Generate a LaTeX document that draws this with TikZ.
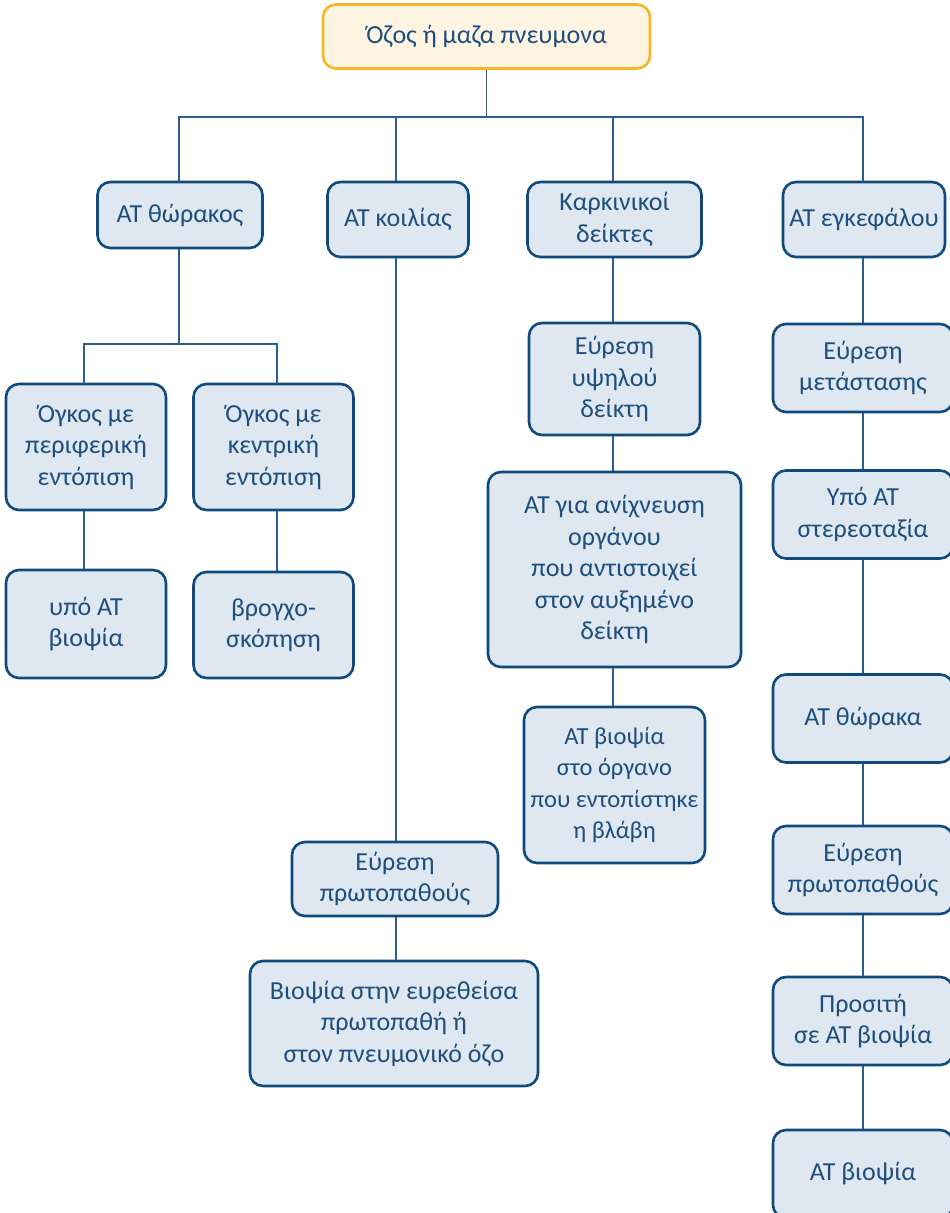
\documentclass[tikz,border=0pt]{standalone}
\usepackage{fontspec}
\setmainfont{Carlito}
\definecolor{boxline}{HTML}{0E4A7E}
\definecolor{boxfill}{HTML}{DFE8F0}
\definecolor{textblue}{HTML}{1C4F80}
\definecolor{linkblue}{HTML}{2B5E90}
\definecolor{rootline}{HTML}{F8B624}
\definecolor{rootfill}{HTML}{FEF4E1}
\begin{document}
\begin{tikzpicture}[x=1pt,y=-1pt,
  box/.style={draw=boxline, fill=boxfill, line width=2.6pt, rounded corners=13pt,
    text=textblue, align=center, inner sep=0pt,
    font=\fontsize{26}{31.5}\selectfont},
  root/.style={box, draw=rootline, fill=rootfill},
  link/.style={draw=linkblue, line width=1.5pt}]
\useasboundingbox (0,0) rectangle (950,1213);
\fill[white] (0,0) rectangle (950,1213);

% top of the tree
\node[root, minimum width=327, minimum height=64] (root) at (486.5,36.5) {Όζος ή μαζα πνευμονα};

% second row
\node[box, minimum width=165, minimum height=66] (thor) at (180,215) {ΑΤ θώρακος};
\node[box, minimum width=141, minimum height=75] (koil) at (398,219.5) {ΑΤ κοιλίας};
\node[box, minimum width=174, minimum height=75] (kark) at (614.5,219.5) {Καρκινικοί\\δείκτες};
\node[box, minimum width=162, minimum height=75] (enk) at (864,219.5) {ΑΤ εγκεφάλου};

% chest branch
\node[box, minimum width=160, minimum height=126] (per) at (86,447) {Όγκος με\\περιφερική\\εντόπιση};
\node[box, minimum width=160, minimum height=126] (kent) at (273.5,447) {Όγκος με\\κεντρική\\εντόπιση};
\node[box, minimum width=160, minimum height=108] (ypo) at (86,624) {υπό ΑΤ\\βιοψία};
\node[box, minimum width=160, minimum height=106] (vrog) at (273.5,625) {βρογχο-\\σκόπηση};

% abdomen branch
\node[box, minimum width=206, minimum height=74] (epr1) at (395,879) {Εύρεση\\πρωτοπαθούς};
\node[box, minimum width=288, minimum height=125] (vio) at (394,1023.5) {Βιοψία στην ευρεθείσα\\πρωτοπαθή ή\\στον πνευμονικό όζο};

% tumour marker branch
\node[box, minimum width=171, minimum height=112] (ypsi) at (614.5,379) {Εύρεση\\υψηλού\\δείκτη};
\node[box, minimum width=253, minimum height=195] (anix) at (614.5,569.5) {ΑΤ για ανίχνευση\\οργάνου\\που αντιστοιχεί\\στον αυξημένο\\δείκτη};
\node[box, minimum width=181, minimum height=156, font=\fontsize{24.5}{31.5}\selectfont] (biop) at (614.5,785) {ΑΤ βιοψία\\στο όργανο\\που εντοπίστηκε\\η βλάβη};

% brain branch
\node[box, minimum width=180, minimum height=88] (meta) at (863,368) {Εύρεση\\μετάστασης};
\node[box, minimum width=180, minimum height=88] (ster) at (863,514.5) {Υπό ΑΤ\\στερεοταξία};
\node[box, minimum width=180, minimum height=88] (thka) at (863,718.5) {ΑΤ θώρακα};
\node[box, minimum width=180, minimum height=88] (epr2) at (863,870) {Εύρεση\\πρωτοπαθούς};
\node[box, minimum width=180, minimum height=88] (pros) at (863,1021) {Προσιτή\\σε ΑΤ βιοψία};
\node[box, minimum width=180, minimum height=88] (atb) at (863,1174) {ΑΤ βιοψία};

% connectors
\coordinate (hub) at (root.south |- 0,117);
\coordinate (tj) at (179,344);
\draw[link] (root.south) -- (hub);
\draw[link] (179,182) coordinate (thtop) |- (hub) -| (863,182) coordinate (entop);
\draw[link] (396,117) coordinate (kotop) -- (koil.north -| kotop);
\draw[link] (613,117) coordinate (katop) -- (kark.north -| katop);
\draw[link] (thor.south -| tj) -- (tj);
\draw[link] (84,384) coordinate (pertop) |- (tj) -| (277,384) coordinate (kenttop);
\draw[link] (per.south -| pertop) -- (ypo.north -| pertop);
\draw[link] (kent.south -| kenttop) -- (vrog.north -| kenttop);
\draw[link] (koil.south -| kotop) -- (epr1.north -| kotop);
\draw[link] (epr1.south -| kotop) -- (vio.north -| kotop);
\draw[link] (kark.south -| katop) -- (ypsi.north -| katop);
\draw[link] (ypsi.south -| katop) -- (anix.north -| katop);
\draw[link] (anix.south -| katop) -- (biop.north -| katop);
\draw[link] (enk.south -| entop) -- (meta.north -| entop);
\draw[link] (meta.south) -- (ster.north);
\draw[link] (ster.south) -- (thka.north);
\draw[link] (thka.south) -- (epr2.north);
\draw[link] (epr2.south) -- (pros.north);
\draw[link] (pros.south) -- (atb.north);
\end{tikzpicture}
\end{document}
